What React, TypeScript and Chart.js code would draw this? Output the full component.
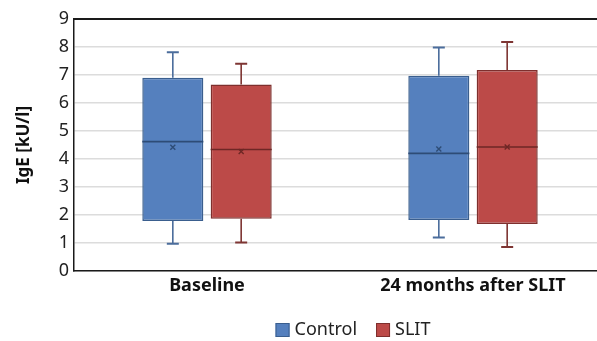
import React, { useEffect, useRef } from "react";
import { Chart, registerables } from "chart.js";

Chart.register(...registerables);

const categories = ["Baseline", "24 months after SLIT"];
const seriesNames = ["Control", "SLIT"];
const whiskerMin = [
  [0.97, 1.2],
  [1.02, 0.86],
];
const q1 = [
  [1.79, 1.82],
  [1.87, 1.68],
];
const medianVals = [
  [4.62, 4.2],
  [4.34, 4.43],
];
const meanVals = [
  [4.42, 4.36],
  [4.27, 4.43],
];
const q3 = [
  [6.9, 6.97],
  [6.66, 7.18],
];
const whiskerMax = [
  [7.81, 7.98],
  [7.4, 8.18],
];
const yTicks = [0, 1, 2, 3, 4, 5, 6, 7, 8, 9];

const fills = ["#5580BE", "#BC4A48"];
const borders = ["#3A5E8E", "#7E2F2D"];
const darks = ["#2E4C76", "#6E2725"];
const whiskerColors = ["#4B6D9C", "#7E3533"];

const FONT = "'Noto Sans', 'Open Sans', sans-serif";

const boxPlugin = {
  id: "boxExtras",
  beforeDatasetsDraw(chart: any) {
    const { ctx, chartArea } = chart;
    ctx.save();
    ctx.strokeStyle = "#1a1a1a";
    ctx.lineWidth = 2;
    ctx.beginPath();
    ctx.moveTo(chartArea.left, chartArea.top);
    ctx.lineTo(chartArea.right + 5, chartArea.top);
    ctx.stroke();
    ctx.restore();
  },
  afterDatasetsDraw(chart: any) {
    const { ctx } = chart;
    const yScale = chart.scales.y;
    chart.data.datasets.forEach((ds: any, di: number) => {
      const meta = chart.getDatasetMeta(di);
      meta.data.forEach((bar: any, i: number) => {
        const x = bar.x;
        const half = bar.width / 2;
        const yMin = yScale.getPixelForValue(whiskerMin[di][i]);
        const yMax = yScale.getPixelForValue(whiskerMax[di][i]);
        const yQ1 = yScale.getPixelForValue(q1[di][i]);
        const yQ3 = yScale.getPixelForValue(q3[di][i]);
        const yMed = yScale.getPixelForValue(medianVals[di][i]);
        const yMean = yScale.getPixelForValue(meanVals[di][i]);
        ctx.save();
        ctx.strokeStyle = whiskerColors[di];
        ctx.lineWidth = 1.6;
        ctx.beginPath();
        ctx.moveTo(x, yQ3);
        ctx.lineTo(x, yMax);
        ctx.moveTo(x, yQ1);
        ctx.lineTo(x, yMin);
        ctx.stroke();
        ctx.lineWidth = 2;
        ctx.beginPath();
        ctx.moveTo(x - 6, yMax);
        ctx.lineTo(x + 6, yMax);
        ctx.moveTo(x - 6, yMin);
        ctx.lineTo(x + 6, yMin);
        ctx.stroke();
        ctx.strokeStyle = darks[di];
        ctx.lineWidth = 1.6;
        ctx.beginPath();
        ctx.moveTo(x - half, yMed);
        ctx.lineTo(x + half, yMed);
        ctx.stroke();
        ctx.lineWidth = 1.4;
        const s = 2.5;
        ctx.beginPath();
        ctx.moveTo(x - s, yMean - s);
        ctx.lineTo(x + s, yMean + s);
        ctx.moveTo(x + s, yMean - s);
        ctx.lineTo(x - s, yMean + s);
        ctx.stroke();
        ctx.restore();
      });
    });
  },
  afterDraw(chart: any) {
    const { ctx } = chart;
    ctx.save();
    ctx.font = `18px ${FONT}`;
    const box = 14;
    const gapBoxText = 5;
    const gapItems = 19;
    const widths = seriesNames.map((n) => ctx.measureText(n).width);
    const total =
      widths.reduce((a: number, w: number) => a + box + gapBoxText + w, 0) +
      gapItems * (seriesNames.length - 1);
    let x = 353 - total / 2;
    const cy = 330;
    seriesNames.forEach((n, i) => {
      ctx.fillStyle = fills[i];
      ctx.fillRect(x, cy - box / 2, box, box);
      ctx.strokeStyle = borders[i];
      ctx.lineWidth = 1;
      ctx.strokeRect(x + 0.5, cy - box / 2 + 0.5, box - 1, box - 1);
      ctx.fillStyle = "#222";
      ctx.textBaseline = "middle";
      ctx.textAlign = "left";
      ctx.fillText(n, x + box + gapBoxText, cy);
      x += box + gapBoxText + widths[i] + gapItems;
    });
    ctx.restore();
  },
};

export default function App() {
  const canvasRef = useRef<HTMLCanvasElement | null>(null);

  useEffect(() => {
    document.body.style.margin = "0";
    document.body.style.overflow = "hidden";
    const canvas = canvasRef.current;
    if (!canvas) return;
    const chart = new Chart(canvas, {
      type: "bar",
      data: {
        labels: categories,
        datasets: seriesNames.map((name, di) => ({
          label: name,
          data: categories.map((_, i) => [q1[di][i], q3[di][i]]),
          backgroundColor: fills[di],
          borderColor: borders[di],
          borderWidth: 1.5,
          borderSkipped: false,
          categoryPercentage: 0.514,
          barPercentage: 0.893,
        })),
      },
      options: {
        responsive: false,
        animation: false,
        devicePixelRatio: 1,
        layout: { padding: { top: 19, right: 0, left: 0, bottom: 0 } },
        plugins: {
          legend: { display: false },
          tooltip: { enabled: false },
        },
        scales: {
          x: {
            grid: { display: false, drawTicks: false },
            border: { display: true, color: "#1a1a1a", width: 1.5 },
            ticks: {
              color: "#111",
              font: { family: FONT, size: 18, weight: "bold" },
              padding: 4,
            },
            afterFit: (s: any) => {
              s.height = 70;
            },
          },
          y: {
            min: 0,
            max: 9,
            afterBuildTicks: (s: any) => {
              s.ticks = yTicks.map((v) => ({ value: v }));
            },
            grid: { color: "#dcdcdc", lineWidth: 1.5, drawTicks: false },
            border: { display: true, color: "#1a1a1a", width: 1.5 },
            ticks: {
              color: "#222",
              font: { family: FONT, size: 18 },
              padding: 5,
            },
            title: {
              display: true,
              text: "IgE [kU/l]",
              color: "#111",
              font: { family: FONT, size: 17, weight: "bold" },
              padding: { top: 14, bottom: 0 },
            },
            afterFit: (s: any) => {
              s.width = 74;
            },
          },
        },
      },
      plugins: [boxPlugin],
    });
    return () => chart.destroy();
  }, []);

  return (
    <div style={{ width: 606, height: 341, overflow: "hidden" }}>
      <canvas ref={canvasRef} width={606} height={341} style={{ display: "block" }} />
    </div>
  );
}
